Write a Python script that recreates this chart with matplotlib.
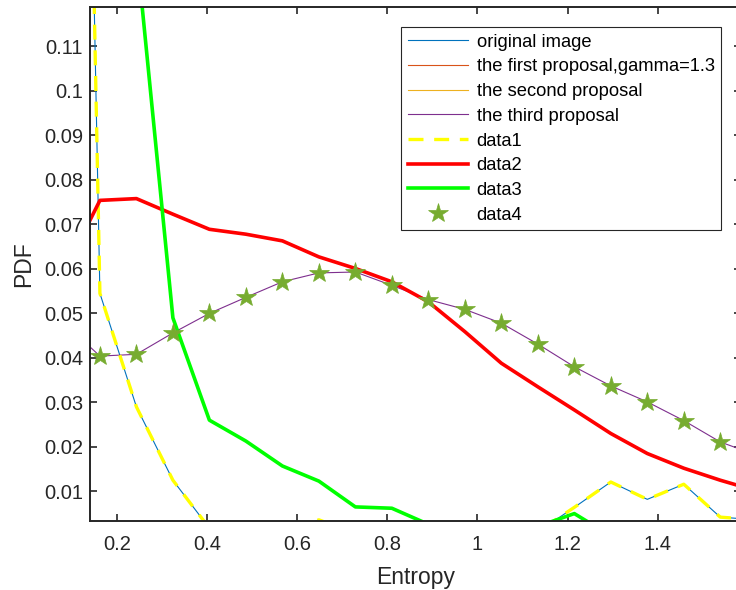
import numpy as np
import matplotlib
matplotlib.use('Agg')
import matplotlib.pyplot as plt

plt.rcParams['font.family'] = ['Liberation Sans', 'DejaVu Sans']

# entropy bin centres
entropy = [0.081, 0.162, 0.243, 0.324, 0.405, 0.486, 0.567, 0.648, 0.729, 0.810,
           0.891, 0.972, 1.053, 1.134, 1.215, 1.296, 1.377, 1.458, 1.539, 1.620]

# original image (also data1)
pdf_original = [0.47, 0.0545, 0.029, 0.0125, 0.0017, 0.0, 0.0005, 0.0036, 0.0005, 0.0,
                0.0, 0.0, 0.0, 0.0009, 0.0064, 0.0121, 0.0082, 0.0116, 0.0042, 0.0036]
# first proposal (also data2)
pdf_first = [0.059, 0.0754, 0.0758, 0.0723, 0.0689, 0.0678, 0.0663, 0.0627, 0.0601, 0.0571,
             0.0526, 0.0459, 0.0388, 0.0335, 0.0283, 0.0230, 0.0185, 0.0152, 0.0125, 0.0101]
# second proposal (also data3)
pdf_second = [0.40, 0.22, 0.132, 0.049, 0.026, 0.0213, 0.0157, 0.0123, 0.0065, 0.0062,
              0.0026, 0.0, 0.0, 0.0021, 0.0050, 0.0, 0.0, 0.0, 0.0, 0.0]
# third proposal (also data4)
pdf_third = [0.048, 0.0404, 0.0408, 0.0456, 0.0500, 0.0536, 0.0571, 0.0591, 0.0593, 0.0563,
             0.0531, 0.0509, 0.0478, 0.0431, 0.0380, 0.0337, 0.0301, 0.0259, 0.0211, 0.0181]

xticks = [0.2, 0.4, 0.6, 0.8, 1.0, 1.2, 1.4]
xticklabels = ['0.2', '0.4', '0.6', '0.8', '1', '1.2', '1.4']
yticks = [0.01, 0.02, 0.03, 0.04, 0.05, 0.06, 0.07, 0.08, 0.09, 0.1, 0.11]
yticklabels = ['0.01', '0.02', '0.03', '0.04', '0.05', '0.06', '0.07', '0.08', '0.09', '0.1', '0.11']

txt = '#262626'

fig = plt.figure(figsize=(7.36, 5.9), dpi=100)
ax = fig.add_axes([90/736, 69.3/590, 651/736, 513.4/590])

ax.plot(entropy, pdf_original, color='#0072BD', lw=0.8, label='original image')
ax.plot(entropy, pdf_first, color='#D95319', lw=0.8, label='the first proposal,gamma=1.3')
ax.plot(entropy, pdf_second, color='#EDB120', lw=0.8, label='the second proposal')
ax.plot(entropy, pdf_third, color='#7E2F8E', lw=0.8, label='the third proposal')
ax.plot(entropy, pdf_original, color='#FFFF00', lw=2.4, dashes=(4.5, 3.2), label='data1')
ax.plot(entropy, pdf_first, color='#FF0000', lw=2.6, label='data2')
ax.plot(entropy, pdf_second, color='#00FF00', lw=2.6, label='data3')
ax.plot(entropy, pdf_third, ls='none', marker='*', ms=15, color='#77AC30',
        mec='#77AC30', mew=0.5, label='data4')

ax.set_xlim(0.14, 1.585)
ax.set_ylim(0.0034, 0.1188)
ax.set_xticks(xticks)
ax.set_xticklabels(xticklabels)
ax.set_yticks(yticks)
ax.set_yticklabels(yticklabels)

ax.tick_params(direction='in', length=5, width=1.2, colors=txt, labelsize=14.5,
               top=True, right=True)
ax.tick_params(axis='x', pad=10)
ax.tick_params(axis='y', pad=5)
for s in ax.spines.values():
    s.set_color(txt)
    s.set_linewidth(1.4)

ax.set_xlabel('Entropy', fontsize=16.5, color=txt, labelpad=9)
ax.set_ylabel('PDF', fontsize=16.5, color=txt, labelpad=6)

leg = ax.legend(loc='upper right', bbox_to_anchor=((721-90)/651, (520.7-27.3)/513.4),
                borderaxespad=0, fontsize=13.2, fancybox=False, framealpha=1,
                edgecolor=txt, handlelength=3.3, handletextpad=0.45,
                labelspacing=0.42, borderpad=0.35)
leg.get_frame().set_linewidth(0.8)

plt.savefig('out.png', dpi=100)
